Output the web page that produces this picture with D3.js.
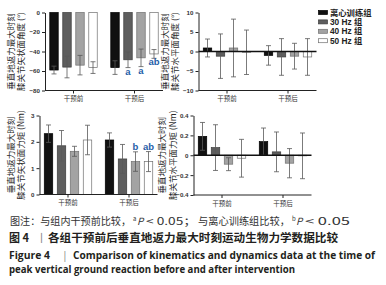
<!DOCTYPE html>
<html><head><meta charset="utf-8">
<script src="https://cdn.jsdelivr.net/npm/d3@7"></script>
<style>
html,body{margin:0;padding:0;background:#fff;}
svg{display:block;}
</style></head>
<body>
<script>
// ---------- data ----------
const groups = ["干预前", "干预后"];
const series = ["离心训练组", "30 Hz 组", "40 Hz 组", "50 Hz 组"];

// Panel A: knee sagittal angle (°)
const sagAnglePre = [-59, -56, -54, -56.5];
const sagAnglePreSD = [4, 11, 10, 6];
const sagAnglePost = [-56.5, -48.5, -46.5, -42.5];
const sagAnglePostSD = [7, 8, 9, 4.5];
const sagAngleMarks = ["", "a", "a", "ab"];
const sagAngleTicks = [0, -20, -40, -60, -80];

// Panel B: knee horizontal angle (°)
const horAnglePre = [0.9, -1.2, 0.9, -0.2];
const horAnglePreSD = [2.3, 5.7, 7.4, 5.7];
const horAnglePost = [-1.0, -1.4, -1.2, -1.4];
const horAnglePostSD = [2.5, 4.7, 3.3, 4.7];
const horAngleTicks = [10, 5, 0, -5, -10];

// Panel C: knee sagittal moment (Nm)
const sagMomentPre = [2.31, 1.85, 1.64, 2.07];
const sagMomentPreSD = [0.33, 0.58, 0.19, 0.56];
const sagMomentPost = [2.07, 1.35, 1.25, 1.25];
const sagMomentPostSD = [0.27, 0.55, 0.37, 0.38];
const sagMomentMarks = ["", "", "b", "ab"];
const sagMomentTicks = [0, 1, 2, 3];

// Panel D: knee horizontal moment (Nm)
const horMomentPre = [0.19, 0.077, -0.09, -0.03];
const horMomentPreSD = [0.14, 0.23, 0.065, 0.19];
const horMomentPost = [0.137, 0.034, -0.08, -0.006];
const horMomentPostSD = [0.137, 0.2, 0.147, 0.23];
const horMomentTicks = [0.4, 0.2, 0, -0.2, -0.4];

const fills = ["#111111", "#5e5e5e", "#a3a3a3", "#ffffff"];
const strokes = ["#000000", "#3c3c3c", "#707070", "#707070"];
const markColor = "#1f5ea8";

// ---------- drawing ----------
const W = 386, H = 285;
const svg = d3.select("body").append("svg").attr("width", W).attr("height", H);
const cjk = "'Noto Sans CJK SC','Noto Sans',sans-serif";
const lat = "'Liberation Sans',Arial,sans-serif";

function panel(cfg) {
  const g = svg.append("g");
  const x0 = cfg.x0;
  const xg = d3.scalePoint().domain(groups).range([x0 + 28.5, x0 + 89.5]);
  const xs = d3.scaleBand().domain(series).range([-26, 26]).paddingInner(0.35).paddingOuter(0.175);
  const y = d3.scaleLinear().domain(cfg.domain).range([cfg.yBot, cfg.yTop]);
  const bw = xs.bandwidth();

  const rows = [];
  groups.forEach((gr, gi) => {
    const m = gi === 0 ? cfg.pre : cfg.post;
    const s = gi === 0 ? cfg.preSD : cfg.postSD;
    series.forEach((se, si) => rows.push({gr, se, si, v: m[si], sd: s[si],
      mark: gi === 1 && cfg.marks ? cfg.marks[si] : ""}));
  });
  const cx = d => xg(d.gr) + xs(d.se) + bw / 2;

  g.selectAll("rect.bar").data(rows).join("rect").attr("class", "bar")
    .attr("x", d => xg(d.gr) + xs(d.se))
    .attr("width", bw)
    .attr("y", d => Math.min(y(0), y(d.v)))
    .attr("height", d => Math.abs(y(d.v) - y(0)))
    .attr("fill", d => fills[d.si])
    .attr("stroke", d => strokes[d.si])
    .attr("stroke-width", 0.7);

  const eg = g.append("g").attr("stroke", "#595959").attr("stroke-width", 0.8).attr("fill", "none");
  rows.forEach(d => {
    const c = cx(d), a = y(d.v - d.sd), b = y(d.v + d.sd);
    eg.append("line").attr("x1", c).attr("x2", c).attr("y1", a).attr("y2", b);
    eg.append("line").attr("x1", c - 2.5).attr("x2", c + 2.5).attr("y1", a).attr("y2", a);
    eg.append("line").attr("x1", c - 2.5).attr("x2", c + 2.5).attr("y1", b).attr("y2", b);
  });

  rows.filter(d => d.mark).forEach(d => {
    const yy = cfg.markBelow ? y(d.v - d.sd) + 7 : y(d.v + d.sd) - 2;
    g.append("text").attr("x", cx(d)).attr("y", yy).attr("text-anchor", "middle")
      .attr("font-family", lat).attr("font-weight", "bold").attr("font-size", 9.5)
      .attr("fill", markColor).text(d.mark);
  });

  if (cfg.zeroLine) {
    g.append("line").attr("x1", x0).attr("x2", x0 + 118).attr("y1", y(0)).attr("y2", y(0))
      .attr("stroke", "#111").attr("stroke-width", 1.3);
  }

  const ya = g.append("g").attr("transform", `translate(${x0},0)`)
    .call(d3.axisLeft(y).tickValues(cfg.ticks).tickSize(3).tickSizeOuter(0).tickPadding(2)
      .tickFormat(cfg.fmt || d3.format("")));
  ya.select(".domain").attr("stroke", "#222").attr("stroke-width", 1);
  ya.selectAll(".tick line").attr("stroke", "#222");
  ya.selectAll(".tick text").attr("font-family", lat).attr("font-weight", "bold")
    .attr("font-size", 6.2).attr("fill", "#333");

  const xa = g.append("g").attr("transform", `translate(0,${cfg.yBot})`);
  xa.append("line").attr("x1", x0).attr("x2", x0 + 118).attr("y1", 0).attr("y2", 0)
    .attr("stroke", "#222").attr("stroke-width", 1);
  groups.forEach(gr => {
    xa.append("line").attr("x1", xg(gr)).attr("x2", xg(gr)).attr("y1", 0).attr("y2", 3)
      .attr("stroke", "#222");
    xa.append("text").attr("x", xg(gr)).attr("y", 10.5).attr("text-anchor", "middle")
      .attr("font-family", cjk).attr("font-size", 6.5).attr("fill", "#333").text(gr);
  });

  const yc = (cfg.yTop + cfg.yBot) / 2;
  const tg = g.append("g").attr("font-family", cjk).attr("font-size", 8.5).attr("fill", "#2a2a2a")
    .attr("text-anchor", "middle");
  tg.append("text").attr("transform", `translate(${cfg.t1},${yc}) rotate(-90)`).text("垂直地返力最大时刻");
  tg.append("text").attr("transform", `translate(${cfg.t2},${yc}) rotate(-90)`).text(cfg.title2);
}

panel({x0: 45, yTop: 12.5, yBot: 90.5, domain: [-80, 0], ticks: sagAngleTicks,
  pre: sagAnglePre, preSD: sagAnglePreSD, post: sagAnglePost, postSD: sagAnglePostSD,
  marks: sagAngleMarks, markBelow: true, title2: "膝关节矢状面角度 (°)", t1: 13.5, t2: 24});
panel({x0: 198.5, yTop: 12.5, yBot: 90.5, domain: [-10, 10], ticks: horAngleTicks, zeroLine: true,
  pre: horAnglePre, preSD: horAnglePreSD, post: horAnglePost, postSD: horAnglePostSD,
  title2: "膝关节水平面角度 (°)", t1: 167.5, t2: 178});
panel({x0: 39.5, yTop: 115.5, yBot: 194.5, domain: [0, 3], ticks: sagMomentTicks,
  pre: sagMomentPre, preSD: sagMomentPreSD, post: sagMomentPost, postSD: sagMomentPostSD,
  marks: sagMomentMarks, markBelow: false, title2: "膝关节矢状面力矩 (Nm)", t1: 14, t2: 23.5});
panel({x0: 193.5, yTop: 115.5, yBot: 195, domain: [-0.4, 0.4], ticks: horMomentTicks, zeroLine: true,
  fmt: d3.format(".1~f"),
  pre: horMomentPre, preSD: horMomentPreSD, post: horMomentPost, postSD: horMomentPostSD,
  title2: "膝关节水平面力矩 (Nm)", t1: 165, t2: 175.5});

// legend
const lg = svg.append("g");
series.forEach((s, i) => {
  const yy = 12.5 + i * 9.4;
  lg.append("rect").attr("x", 318.5).attr("y", yy - 2).attr("width", 9).attr("height", 4)
    .attr("fill", fills[i]).attr("stroke", strokes[i]).attr("stroke-width", 0.7);
  lg.append("text").attr("x", 330).attr("y", yy + 3).attr("font-family", "'Liberation Sans','Noto Sans CJK SC',sans-serif")
    .attr("font-weight", "bold").attr("font-size", 8.3).attr("fill", "#222").text(s);
});

// caption line 1
function seg(x, y, txt, opts) {
  const t = svg.append("text").attr("x", x).attr("y", y).attr("font-family", cjk)
    .attr("font-size", opts.fs || 10).attr("fill", "#333").text(txt);
  if (opts.it) t.attr("font-style", "italic");
  if (opts.len) t.attr("textLength", opts.len).attr("lengthAdjust", "spacingAndGlyphs");
  return t;
}
seg(10, 225, "图注：与组内干预前比较，", {len: 121});
seg(133, 221, "a", {fs: 6});
seg(137, 225, "P", {it: true});
seg(146, 225, "< 0.05；", {len: 51});
seg(198, 225, "与离心训练组比较，", {len: 92});
seg(292, 221, "b", {fs: 6});
seg(296, 225, "P", {it: true});
seg(305, 225, "< 0.05", {len: 45});

svg.append("text").attr("x", 9).attr("y", 242).attr("font-family", cjk).attr("font-weight", "bold")
  .attr("font-size", 11).attr("fill", "#231f20").text("图 4");
svg.append("text").attr("x", 36).attr("y", 242).attr("font-family", cjk)
  .attr("font-size", 11).attr("fill", "#888").text("丨");
svg.append("text").attr("x", 48).attr("y", 242).attr("font-family", cjk).attr("font-weight", "bold")
  .attr("font-size", 11).attr("fill", "#231f20").attr("textLength", 290).attr("lengthAdjust", "spacingAndGlyphs")
  .text("各组干预前后垂直地返力最大时刻运动生物力学数据比较");

const en = "'Open Sans','Noto Sans',sans-serif";
svg.append("text").attr("x", 9).attr("y", 258.5).attr("font-family", en).attr("font-weight", "bold")
  .attr("font-size", 10.5).attr("fill", "#231f20").attr("textLength", 41).attr("lengthAdjust", "spacingAndGlyphs")
  .text("Figure 4");
svg.append("text").attr("x", 62).attr("y", 258.5).attr("font-family", en)
  .attr("font-size", 10.5).attr("fill", "#888").text("|");
svg.append("text").attr("x", 73).attr("y", 258.5).attr("font-family", en).attr("font-weight", "bold")
  .attr("font-size", 10.5).attr("fill", "#231f20").attr("textLength", 302).attr("lengthAdjust", "spacingAndGlyphs")
  .text("Comparison of kinematics and dynamics data at the time of");
svg.append("text").attr("x", 9).attr("y", 272.5).attr("font-family", en).attr("font-weight", "bold")
  .attr("font-size", 10.5).attr("fill", "#231f20").attr("textLength", 286).attr("lengthAdjust", "spacingAndGlyphs")
  .text("peak vertical ground reaction before and after intervention");
</script>
</body></html>
